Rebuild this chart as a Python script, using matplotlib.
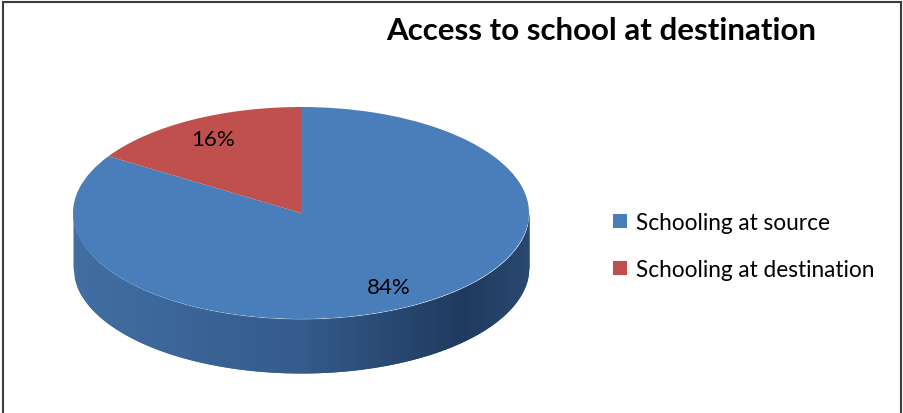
import matplotlib.pyplot as plt
import numpy as np
from matplotlib.patches import Rectangle
from matplotlib.colors import to_rgb

# data
labels = ["Schooling at source", "Schooling at destination"]
shares = [84, 16]
colors = ["#4a7ebb", "#c0504d"]
title = "Access to school at destination"

W, H = 904, 414
fig = plt.figure(figsize=(W / 100, H / 100), dpi=100)

# pie geometry in pixels (centre, radii, thickness of the 3D side)
cx, cy, rx, ry, depth_px = 301, 214, 228, 106, 54
pad = 1.1
depth = depth_px / ry
ax = fig.add_axes([(cx - rx * pad) / W,
                   (H - (cy + ry * pad + depth_px)) / H,
                   2 * rx * pad / W,
                   (2 * ry * pad + depth_px) / H])

# side wall of the front half, shaded in overlapping strips
stops_x = [-1.0, 0.0, 0.7, 1.0]
stops_c = [to_rgb(c) for c in ["#416ea3", "#345b8b", "#1f3a5e", "#29486f"]]
n = 120
edges = np.linspace(-1, 1, n + 1)
step = edges[1] - edges[0]
for i in range(n):
    x = np.linspace(edges[i], min(edges[i + 1] + step, 1), 6)
    top = -np.sqrt(np.clip(1 - x ** 2, 0, None))
    xm = 0.5 * (edges[i] + edges[i + 1])
    col = [np.interp(xm, stops_x, [c[k] for c in stops_c]) for k in range(3)]
    ax.fill_between(x, top, top - depth, color=col, lw=0, zorder=1)

wedges, texts, autotexts = ax.pie(shares, colors=colors, startangle=90, counterclock=False,
                                  autopct='%1.0f%%', pctdistance=0.8,
                                  wedgeprops=dict(linewidth=0),
                                  textprops=dict(fontsize=16, family='Lato', color='black'))
for w in wedges:
    w.set_zorder(2)
for t in autotexts:
    t.set_zorder(3)
ax.set_aspect('auto')
ax.set_xlim(-pad, pad)
ax.set_ylim(-pad - depth, pad)
ax.axis('off')

fig.text(601 / W, 1 - 31 / H, title, ha='center', va='center', fontsize=22.5,
         fontweight='bold', family='Lato')

fig.legend(wedges, labels, loc='center left', bbox_to_anchor=(613 / W, 1 - 247 / H),
           frameon=False, prop=dict(family='Lato', size=16.3), handlelength=0.6,
           handleheight=0.6, labelspacing=1.15, handletextpad=0.4,
           borderpad=0, borderaxespad=0)

fig.patches.append(Rectangle((3 / W, -0.1), 898 / W, 1.1 - 3 / H, transform=fig.transFigure,
                             fill=False, edgecolor='#3c3c3c', lw=1.5))

fig.savefig("out.png", dpi=100)
